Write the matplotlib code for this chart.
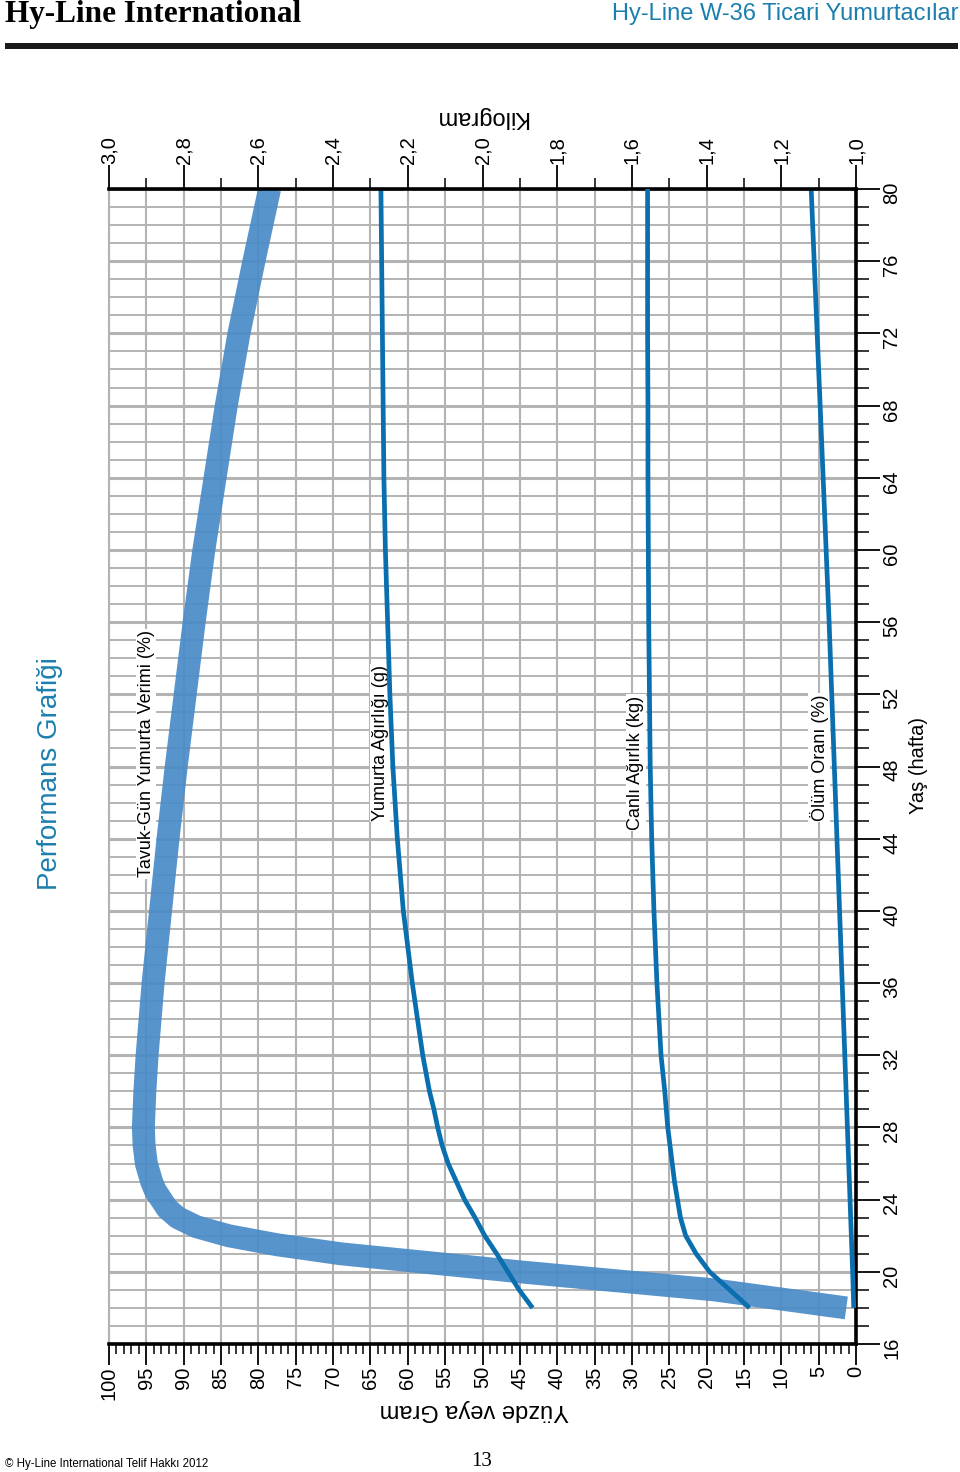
import numpy as np
import matplotlib
matplotlib.use("Agg")
import matplotlib.pyplot as plt
from matplotlib.ticker import MultipleLocator, FuncFormatter
from matplotlib.patches import Rectangle

plt.rcParams['font.family'] = ['Liberation Sans', 'DejaVu Sans']

# hen-day production (%)
prod_weeks = [18, 19, 20, 21, 21.5, 22, 22.5, 23, 23.5, 24, 24.5, 25, 26, 27, 28,
              29, 30, 32, 36, 40, 44, 48, 52, 56, 60, 64, 68, 72, 76, 80]
prod_pct = [1.3, 19, 45, 69, 77.5, 84, 88.3, 90.8, 92.2, 93.0, 93.8, 94.3, 95.0,
            95.3, 95.4, 95.3, 95.2, 94.9, 94.1, 93.1, 92.1, 91.0, 89.8, 88.6,
            87.3, 85.8, 84.3, 82.6, 80.6, 78.5]

# egg weight (g)
egg_weeks = [18, 19, 20, 21, 22, 23, 24, 25, 26, 27, 28, 29, 30, 32, 34, 36, 40,
             44, 48, 52, 56, 60, 64, 68, 72, 76, 80]
egg_g = [43.3, 45.1, 46.6, 48.1, 49.7, 51.0, 52.4, 53.5, 54.6, 55.4, 56.0, 56.5,
         57.1, 58.0, 58.7, 59.4, 60.6, 61.4, 62.0, 62.4, 62.7, 63.0, 63.2, 63.3,
         63.4, 63.5, 63.6]

# body weight (kg)
bw_weeks = [18, 19, 20, 21, 22, 23, 24, 25, 26, 28, 30, 32, 36, 40, 44, 48, 52,
            56, 60, 64, 68, 72, 76, 80]
bw_kg = [1.285, 1.338, 1.392, 1.428, 1.456, 1.470, 1.478, 1.486, 1.492, 1.504,
         1.512, 1.522, 1.533, 1.541, 1.547, 1.551, 1.553, 1.555, 1.556, 1.557,
         1.557, 1.558, 1.558, 1.558]

# cumulative mortality (%)
mort_weeks = [18, 20, 24, 28, 32, 36, 40, 44, 48, 52, 56, 60, 64, 68, 72, 76, 80]
mort_pct = [0.3, 0.45, 0.8, 1.15, 1.5, 1.85, 2.2, 2.55, 2.9, 3.25, 3.6, 4.0,
            4.4, 4.8, 5.2, 5.6, 6.0]

teal = '#1b7fae'
band_c = '#4a8cc8'
line_c = '#0a6fae'
grid_c = '#b3b3b3'

W, H = 960, 1472
def fx(x):
    return x / W
def fy(y):
    return 1 - y / H

fig = plt.figure(figsize=(9.6, 14.72), dpi=100)
ax = fig.add_axes([fx(109), fy(1344), fx(856) - fx(109), fy(189) - fy(1344)])
ax.set_xlim(100, 0)
ax.set_ylim(16, 80)

ax.xaxis.set_major_locator(MultipleLocator(5))
ax.xaxis.set_minor_locator(MultipleLocator(1))
ax.yaxis.set_major_locator(MultipleLocator(4))
ax.yaxis.set_minor_locator(MultipleLocator(1))
ax.yaxis.tick_right()

ax.set_axisbelow(True)
ax.grid(which='major', axis='x', color=grid_c, lw=1.5)
ax.grid(which='minor', axis='y', color=grid_c, lw=1.4)
ax.grid(which='major', axis='y', color=grid_c, lw=2.2)

ax.tick_params(axis='x', which='major', direction='out', length=15, width=1.3,
               labelsize=14.5, labelrotation=90, pad=1)
ax.tick_params(axis='x', which='minor', direction='out', length=7, width=1.1)
ax.tick_params(axis='y', which='major', direction='out', length=17, width=1.3,
               labelsize=14.5, labelrotation=90, pad=2)
ax.tick_params(axis='y', which='minor', direction='out', length=9, width=1.1)

ax.spines['top'].set_visible(False)
ax.spines['left'].set_color(grid_c)
ax.spines['left'].set_linewidth(1.5)
for s in ['right', 'bottom']:
    ax.spines[s].set_linewidth(2.6)

# kilogram axis on top
ax_kg = ax.twiny()
ax_kg.set_xlim(3.0, 1.0)
ax_kg.xaxis.set_major_locator(MultipleLocator(0.2))
ax_kg.xaxis.set_minor_locator(MultipleLocator(0.1))
ax_kg.xaxis.set_major_formatter(FuncFormatter(lambda v, p: f"{v:.1f}".replace('.', ',')))
ax_kg.tick_params(axis='x', which='major', direction='out', length=17, width=1.3,
                  labelsize=14.5, labelrotation=90, pad=1)
ax_kg.tick_params(axis='x', which='minor', direction='out', length=8, width=1.1)
for s in ['left', 'right', 'bottom']:
    ax_kg.spines[s].set_visible(False)
ax_kg.spines['top'].set_linewidth(2.6)

# curves
ax.plot(prod_pct, prod_weeks, color=band_c, lw=16.5, alpha=0.93,
        solid_capstyle='butt', solid_joinstyle='round', zorder=2)
ax.plot(egg_g, egg_weeks, color=line_c, lw=3.4, solid_capstyle='butt', zorder=4)
ax.plot(mort_pct, mort_weeks, color=line_c, lw=3.4, solid_capstyle='butt', zorder=4)
ax_kg.plot(bw_kg, bw_weeks, color=line_c, lw=3.4, solid_capstyle='butt', zorder=4)

box = dict(facecolor='white', edgecolor='none', pad=1)
ax.text(95.0, 48.7, 'Tavuk-Gün Yumurta Verimi (%)', rotation=90, ha='center',
        va='center', fontsize=13, bbox=box, zorder=1.8)
ax.text(63.7, 49.3, 'Yumurta Ağırlığı (g)', rotation=90, ha='center',
        va='center', fontsize=13, bbox=box, zorder=3)
ax.text(29.5, 48.2, 'Canlı Ağırlık (kg)', rotation=90, ha='center',
        va='center', fontsize=13, bbox=box, zorder=3)
ax.text(4.9, 48.5, 'Ölüm Oranı (%)', rotation=90, ha='center',
        va='center', fontsize=13, bbox=box, zorder=3)

# page texts
fig.text(fx(5), fy(0), 'Hy-Line International', family=['Liberation Serif', 'DejaVu Serif'],
         weight='bold', fontsize=22.5, ha='left', va='top')
fig.text(fx(958), fy(3), 'Hy-Line W-36 Ticari Yumurtacılar', color=teal,
         fontsize=17, ha='right', va='top')
fig.add_artist(Rectangle((fx(5), fy(49)), fx(953), 6 / H, transform=fig.transFigure,
                         facecolor='#1a1a1a', edgecolor='none'))
fig.text(fx(50), fy(774), 'Performans Grafiği', rotation=90, color=teal,
         fontsize=20, ha='center', va='center')
fig.text(fx(481), fy(117), 'Kilogram', rotation=180, fontsize=17,
         ha='center', va='center')
fig.text(fx(474), fy(1410), 'Yüzde veya Gram', rotation=180, fontsize=17,
         ha='center', va='center')
fig.text(fx(918), fy(765), 'Yaş (hafta)', rotation=90, fontsize=14.5,
         ha='center', va='center')
fig.text(fx(5), fy(1464), '© Hy-Line International Telif Hakkı 2012',
         fontsize=8.3, ha='left', va='center')
fig.text(fx(482), fy(1462), '13', family=['Liberation Serif', 'DejaVu Serif'],
         fontsize=15, ha='center', va='center')

fig.savefig('out.png', dpi=100)
